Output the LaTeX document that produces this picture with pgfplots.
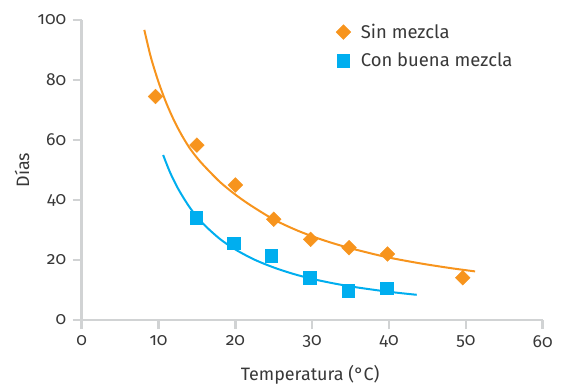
\documentclass[border=0pt]{standalone}
\usepackage{fontspec}
\setmainfont{Fira Sans}[Numbers=OldStyle]
\usepackage{pgfplots}
\pgfplotsset{compat=1.18}
\definecolor{orng}{HTML}{F7941D}
\definecolor{blu}{HTML}{00AEEF}
\definecolor{axgray}{HTML}{D1D3D4}
\definecolor{txt}{HTML}{383838}
\begin{document}
\begin{tikzpicture}
\useasboundingbox (-81.7bp,-67bp) rectangle (484.3bp,320bp);
\begin{axis}[
  scale only axis, width=461bp, height=300bp,
  xmin=0, xmax=60, ymin=0, ymax=100,
  axis lines=left,
  axis line style={axgray, line width=2.5bp, -},
  xtick={0,10,...,60}, ytick={0,20,...,100},
  xticklabels={0,10,20,30,40,50,60},
  yticklabels={0,20,40,60,80,100},
  tick align=outside, major tick length=9bp,
  tick style={axgray, line width=2.5bp},
  /pgf/number format/assume math mode=true,
  ticklabel style={font=\fontsize{17.5}{21}\selectfont, text=txt},
  yticklabel style={xshift=-3bp},
  xticklabel style={yshift=-3bp},
  label style={font=\fontsize{18}{22}\selectfont, text=txt},
  xlabel={Temperatura (°C)},
  ylabel={Días},
  xlabel style={at={(axis description cs:0.5,-0.203)}, anchor=base, xshift=-2bp},
  ylabel style={at={(axis description cs:-0.1295,0.5)}, anchor=center},
  legend style={draw=none, fill=none, at={(axis description cs:0.545,1.0)}, anchor=north west,
    font=\fontsize{18.5}{22}\selectfont, text=txt, row sep=9bp,
    /tikz/every odd column/.append style={column sep=8bp}},
  legend cell align=left,
  clip=false,
]
\addplot[orng, line width=2bp, smooth, forget plot] coordinates {
(8.15,96.7) (9,87.6) (10,79.3) (11,72.4) (12,66.6) (13,61.7) (14,57.5) (15,54.1)
(16,51.2) (18,46) (20,41.8) (22,38.2) (25,33.5) (28,29.9) (31,27.0) (34,24.6)
(37,22.6) (40,20.8) (44,18.9) (48,17.3) (51.2,16.2)};
\addplot[blu, line width=2bp, smooth, forget plot] coordinates {
(10.6,55) (11.5,49.2) (12.5,44) (13.5,39.7) (14.5,36) (16,31.6) (18,27) (20,23.5)
(22.5,20.1) (25,17.5) (27.5,15.4) (30,13.7) (33,12.1) (36,10.8) (40,9.4) (43.6,8.4)};
\addplot[only marks, mark=square*, mark size=5.2bp, mark options={rotate=45, fill=orng, draw=orng}] coordinates {
(9.6,74.5) (15,58.3) (20,45) (25,33.6) (29.8,26.9) (34.8,24.1) (39.8,22) (49.6,14.1)};
\addlegendentry{Sin mezcla}
\addplot[only marks, mark=square*, mark size=6.2bp, mark options={fill=blu, draw=blu}] coordinates {
(14.9,34.1) (19.8,25.6) (24.7,21.4) (29.7,14.1) (34.7,9.8) (39.7,10.6)};
\addlegendentry{Con buena mezcla}
\end{axis}
\end{tikzpicture}
\end{document}
